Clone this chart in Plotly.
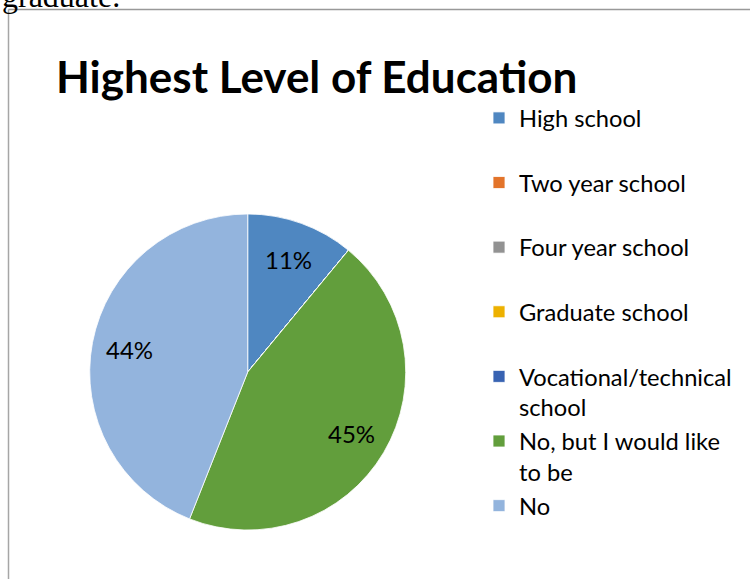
import math
import plotly.graph_objects as go

# Survey answers and their share of respondents (percent)
labels = [
    "High school<br>\u00a0",
    "Two year school<br>\u00a0",
    "Four year school<br>\u00a0",
    "Graduate school<br>\u00a0",
    "Vocational/technical<br>school",
    "No, but I would like<br>to be",
    "No",
]
values = [11, 0, 0, 0, 0, 45, 44]
colors = ["#4F87C1", "#E3742A", "#929292", "#EDB100", "#3863B2", "#629E3C", "#93B4DD"]

title_text = "Highest Level of Education"

W, H = 750, 579
pie_dom_x = [0.1196, 0.541]
pie_dom_y = [0.0846, 0.6304]

fig = go.Figure(
    go.Pie(
        labels=labels,
        values=values,
        textinfo="none",
        sort=False,
        direction="clockwise",
        rotation=0,
        marker=dict(colors=colors, line=dict(color="#FFFFFF", width=0.8)),
        domain=dict(x=pie_dom_x, y=pie_dom_y),
        hoverinfo="skip",
    )
)

# Percentage labels placed along each slice's bisector
cx = (pie_dom_x[0] + pie_dom_x[1]) / 2 * W
cy = (1 - (pie_dom_y[0] + pie_dom_y[1]) / 2) * H
radius = min((pie_dom_x[1] - pie_dom_x[0]) * W, (pie_dom_y[1] - pie_dom_y[0]) * H) / 2
total = sum(values)
label_annotations = []
cum = 0
for v in values:
    if v:
        mid = (cum + v / 2) / total * 2 * math.pi
        px = cx + 0.76 * radius * math.sin(mid)
        py = cy - 0.76 * radius * math.cos(mid)
        label_annotations.append(dict(
            text=f"{v}%", xref="paper", yref="paper", x=px / W, y=1 - py / H,
            xanchor="center", yanchor="middle", showarrow=False,
            font=dict(family="Lato", size=24, color="#000000"),
        ))
    cum += v

fig.update_layout(
    width=W,
    height=H,
    margin=dict(l=0, r=0, t=0, b=0),
    paper_bgcolor="#FFFFFF",
    plot_bgcolor="#FFFFFF",
    title=dict(
        text=f"<b>{title_text}</b>",
        font=dict(family="Lato", size=44, color="#000000"),
        x=56 / W,
        xanchor="left",
        xref="paper",
        yref="container",
        y=1 - 78 / H,
        yanchor="middle",
    ),
    legend=dict(
        x=479 / W,
        xanchor="left",
        y=1 - 96 / H,
        yanchor="top",
        valign="top",
        font=dict(family="Lato", size=23.7, color="#000000"),
        bgcolor="rgba(0,0,0,0)",
        traceorder="normal",
    ),
    showlegend=True,
    shapes=[
        # chart frame (left and top edges visible)
        dict(type="line", xref="paper", yref="paper", x0=8.5 / W, x1=8.5 / W,
             y0=0, y1=1 - 9.5 / H, line=dict(color="#A6A6A6", width=1.5)),
        dict(type="line", xref="paper", yref="paper", x0=8.5 / W, x1=1.0,
             y0=1 - 9.5 / H, y1=1 - 9.5 / H, line=dict(color="#999999", width=1.5)),
    ],
    annotations=[
        dict(text="graduate.", xref="paper", yref="paper", x=0, y=1 + 24 / H,
             xanchor="left", yanchor="top", showarrow=False,
             font=dict(family="Liberation Serif", size=32, color="#000000")),
    ] + label_annotations,
)

fig.write_html("out.html")
